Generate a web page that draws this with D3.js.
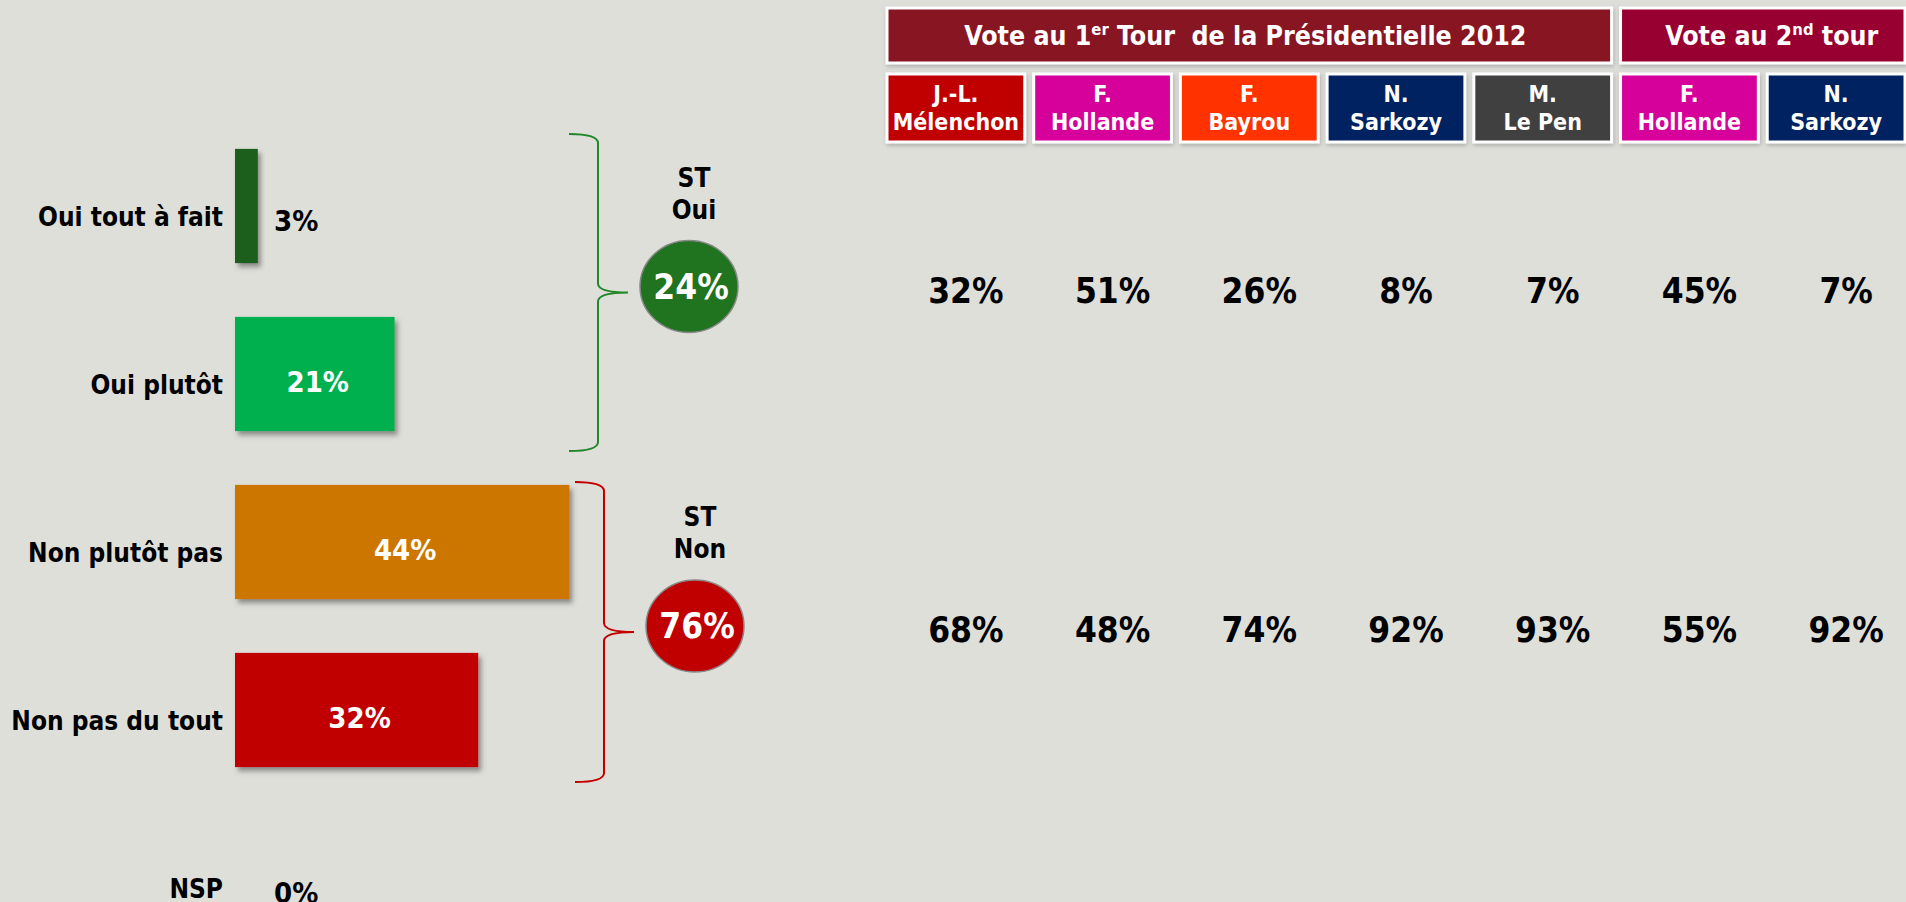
<!DOCTYPE html>
<html>
<head>
<meta charset="utf-8">
<script src="https://cdn.jsdelivr.net/npm/d3@7"></script>
<style>
  body { margin: 0; background: #dfdfda; }
  svg { display: block; }
  text { font-family: "DejaVu Sans Condensed", "DejaVu Sans", Verdana, sans-serif; font-stretch: condensed; font-weight: bold; }
</style>
</head>
<body>
<svg id="drawing_region"></svg>
<script>
// left bars
const categories = ['Oui tout à fait', 'Oui plutôt', 'Non plutôt pas', 'Non pas du tout', 'NSP']
const shares = [3, 21, 44, 32, 0]
const barColors = ['#1b5e1b', '#00b050', '#cc7606', '#c00000', '#888888']

// sub totals
const totalNames = [['ST', 'Oui'], ['ST', 'Non']]
const totals = [24, 76]
const totalMembers = [[0, 1], [2, 3]]
const totalColors = ['#20731f', '#c00000']
const braceColors = ['#23872a', '#c00000']

// table on the right
const roundTitles = [['Vote au 1', 'er', ' Tour  de la Présidentielle 2012'], ['Vote au 2', 'nd', ' tour']]
const roundColumns = [[0, 4], [5, 6]]
const roundColors = ['#881824', '#990033']
const firstNames = ['J.-L.', 'F.', 'F.', 'N.', 'M.', 'F.', 'N.']
const lastNames = ['Mélenchon', 'Hollande', 'Bayrou', 'Sarkozy', 'Le Pen', 'Hollande', 'Sarkozy']
const candidateColors = ['#c00000', '#d6009a', '#ff3300', '#002060', '#404040', '#d6009a', '#002060']
const ouiByVote = [32, 51, 26, 8, 7, 45, 7]
const nonByVote = [68, 48, 74, 92, 93, 55, 92]

const width = 1906, height = 902

const svg = d3.select('#drawing_region')
    .attr('width', width)
    .attr('height', height)

const defs = svg.append('defs')
const shadow = defs.append('filter').attr('id', 'shadow')
    .attr('x', '-20%').attr('y', '-20%').attr('width', '150%').attr('height', '150%')
shadow.append('feDropShadow')
    .attr('dx', 3).attr('dy', 4).attr('stdDeviation', 2.5)
    .attr('flood-color', '#444').attr('flood-opacity', 0.55)
const boxShadow = defs.append('filter').attr('id', 'boxshadow')
    .attr('x', '-10%').attr('y', '-20%').attr('width', '120%').attr('height', '150%')
boxShadow.append('feDropShadow')
    .attr('dx', 1).attr('dy', 2).attr('stdDeviation', 2)
    .attr('flood-color', '#777').attr('flood-opacity', 0.5)

const x = d3.scaleLinear().domain([0, 100]).range([235, 995])
const y = d3.scaleBand().domain(categories).range([122, 962])
    .paddingInner(0.32).paddingOuter(0.16)
const bw = y.bandwidth()

const left = svg.append('g')

left.selectAll('rect.bar').data(categories.slice(0, 4)).enter()
    .append('rect')
    .attr('class', 'bar')
    .attr('x', x(0))
    .attr('y', d => y(d))
    .attr('width', (d, i) => x(shares[i]) - x(0))
    .attr('height', bw)
    .attr('fill', (d, i) => barColors[i])
    .attr('filter', 'url(#shadow)')

left.selectAll('text.cat').data(categories).enter()
    .append('text')
    .attr('class', 'cat')
    .attr('x', 223)
    .attr('y', d => y(d) + bw / 2 + 20)
    .attr('text-anchor', 'end')
    .attr('font-size', 26)
    .attr('fill', '#000')
    .text(d => d)

left.selectAll('text.val').data(categories).enter()
    .append('text')
    .attr('class', 'val')
    .attr('x', (d, i) => shares[i] < 10 ? x(0) + 39 : (x(0) + x(shares[i])) / 2 + 3)
    .attr('y', (d, i) => y(d) + bw / 2 + (shares[i] < 10 ? 25 : 18))
    .attr('text-anchor', (d, i) => shares[i] < 10 ? 'start' : 'middle')
    .attr('font-size', 29)
    .attr('fill', (d, i) => shares[i] < 10 ? '#000' : '#fff')
    .text((d, i) => shares[i] + '%')

// braces + sub total circles
const braceX = [598, 604]
const braceOff = [[15, 20], [3, 15]]
const rowY = []

totals.forEach((t, k) => {
    const top = y(categories[totalMembers[k][0]]) - braceOff[k][0]
    const bottom = y(categories[totalMembers[k][1]]) + bw + braceOff[k][1]
    const mid = (top + bottom) / 2
    const bx = braceX[k]
    const path = d3.path()
    path.moveTo(bx - 29, top)
    path.quadraticCurveTo(bx, top, bx, top + 9)
    path.lineTo(bx, mid - 9)
    path.quadraticCurveTo(bx, mid, bx + 30, mid)
    path.moveTo(bx + 30, mid)
    path.quadraticCurveTo(bx, mid, bx, mid + 9)
    path.lineTo(bx, bottom - 9)
    path.quadraticCurveTo(bx, bottom, bx - 29, bottom)
    left.append('path')
        .attr('d', path.toString())
        .attr('fill', 'none')
        .attr('stroke', braceColors[k])
        .attr('stroke-width', 2)

    const cx = bx + 91, cy = mid - 6
    rowY.push(mid - 3)
    left.append('ellipse')
        .attr('cx', cx).attr('cy', cy)
        .attr('rx', 49).attr('ry', 46)
        .attr('fill', totalColors[k])
        .attr('stroke', '#888').attr('stroke-width', 1.5)
    left.append('text')
        .attr('x', cx + 2).attr('y', cy + 12)
        .attr('text-anchor', 'middle')
        .attr('font-size', 35)
        .attr('fill', '#fff')
        .text(t + '%')
    left.selectAll(null).data(totalNames[k]).enter()
        .append('text')
        .attr('x', cx + 5)
        .attr('y', (d, i) => cy - 46 - 54 + i * 32)
        .attr('text-anchor', 'middle')
        .attr('font-size', 26)
        .attr('fill', '#000')
        .text(d => d)
})

// table
const col = d3.scaleBand().domain(d3.range(lastNames.length)).range([887, 1905]).paddingInner(0.061)
const cw = col.bandwidth()
const table = svg.append('g')

roundTitles.forEach((title, k) => {
    const x0 = col(roundColumns[k][0]), x1 = col(roundColumns[k][1]) + cw
    table.append('rect')
        .attr('x', x0).attr('y', 8)
        .attr('width', x1 - x0).attr('height', 55)
        .attr('fill', roundColors[k])
        .attr('stroke', '#fff').attr('stroke-width', 3)
        .attr('filter', 'url(#boxshadow)')
    const t = table.append('text')
        .attr('x', (x0 + x1) / 2 + (k === 1 ? 9 : -4)).attr('y', 45)
        .attr('text-anchor', 'middle')
        .attr('font-size', 26.5)
        .attr('fill', '#fff')
        .style('white-space', 'pre')
    t.append('tspan').text(title[0])
    t.append('tspan').attr('font-size', 16.5).attr('dy', -10).text(title[1])
    t.append('tspan').attr('dy', 10).text(title[2])
})

table.selectAll('rect.cand').data(lastNames).enter()
    .append('rect')
    .attr('class', 'cand')
    .attr('x', (d, i) => col(i)).attr('y', 74)
    .attr('width', cw).attr('height', 68)
    .attr('fill', (d, i) => candidateColors[i])
    .attr('stroke', '#fff').attr('stroke-width', 3)
    .attr('filter', 'url(#boxshadow)')

table.selectAll('text.first').data(firstNames).enter()
    .append('text')
    .attr('x', (d, i) => col(i) + cw / 2).attr('y', 102)
    .attr('text-anchor', 'middle')
    .attr('font-size', 23)
    .attr('fill', '#fff')
    .text(d => d)

table.selectAll('text.last').data(lastNames).enter()
    .append('text')
    .attr('x', (d, i) => col(i) + cw / 2).attr('y', 130)
    .attr('text-anchor', 'middle')
    .attr('font-size', 23)
    .attr('fill', '#fff')
    .text(d => d)

;[ouiByVote, nonByVote].forEach((row, k) => {
    table.selectAll(null).data(row).enter()
        .append('text')
        .attr('x', (d, i) => col(i) + cw / 2 + 10)
        .attr('y', rowY[k] + 13)
        .attr('text-anchor', 'middle')
        .attr('font-size', 35)
        .attr('fill', '#000')
        .text(d => d + '%')
})
</script>
</body>
</html>
